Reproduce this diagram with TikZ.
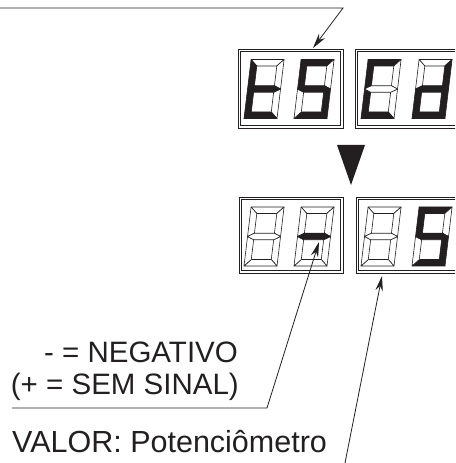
\documentclass[tikz,border=0pt]{standalone}
\usepackage{fontspec}
\setmainfont{Liberation Sans}
\usetikzlibrary{arrows.meta}
\definecolor{ink}{HTML}{231F20}
\tikzset{
  seg/.style={draw=ink, line width=0.6pt, line join=round},
  frame/.style={draw=ink, line width=0.7pt},
  lead/.style={draw=ink, line width=0.8pt, -{Stealth[length=15pt,width=7.5pt]}},
  lbl/.style={text=ink, inner sep=0pt, font=\fontsize{29.5}{32}\selectfont},
}
% args: x, y (bottom-left), then fill colours of segments a b c d e f g
\newcommand\sevenseg[9]{%
  \begin{scope}[shift={(#1,#2)}, xslant=0.12]
    \filldraw[seg,fill=#3] (0,59) -- (33,59) -- (26.5,52.5) -- (6.5,52.5) -- cycle;
    \filldraw[seg,fill=#4] (33,59) -- (33,29.5) -- (26.5,32.75) -- (26.5,52.5) -- cycle;
    \filldraw[seg,fill=#5] (33,29.5) -- (33,0) -- (26.5,6.5) -- (26.5,26.25) -- cycle;
    \filldraw[seg,fill=#6] (0,0) -- (33,0) -- (26.5,6.5) -- (6.5,6.5) -- cycle;
    \filldraw[seg,fill=#7] (0,0) -- (0,29.5) -- (6.5,26.25) -- (6.5,6.5) -- cycle;
    \filldraw[seg,fill=#8] (0,29.5) -- (0,59) -- (6.5,52.5) -- (6.5,32.75) -- cycle;
    \filldraw[seg,fill=#9] (0,29.5) -- (6.5,32.75) -- (26.5,32.75) -- (33,29.5) -- (26.5,26.25) -- (6.5,26.25) -- cycle;
  \end{scope}}
\begin{document}
\begin{tikzpicture}[x=1pt,y=1pt]
\useasboundingbox (0,0) rectangle (455,463);
\clip (0,0) rectangle (455,463);

% display frames (double lines)
\draw[frame] (238,335) rectangle (343,414);
\draw[frame] (240.5,337.5) rectangle (340.5,411.5);
\draw[frame] (355,335) rectangle (470,414);
\draw[frame] (357.5,337.5) rectangle (470,411.5);
\draw[frame] (239,190) rectangle (343,266);
\draw[frame] (241.5,192.5) rectangle (340.5,263.5);
\draw[frame] (356,190) rectangle (470,266);
\draw[frame] (358.5,192.5) rectangle (470,263.5);

% top row: t S C d
\sevenseg{244}{344.5}{white}{white}{white}{ink}{ink}{ink}{ink}
\sevenseg{294}{344.5}{ink}{white}{ink}{ink}{white}{ink}{ink}
\sevenseg{361}{344.5}{ink}{white}{white}{ink}{ink}{ink}{white}
\sevenseg{412}{344.5}{white}{ink}{ink}{ink}{ink}{white}{ink}

% bottom row: blank - blank 5
\sevenseg{244}{197}{white}{white}{white}{white}{white}{white}{white}
\sevenseg{294}{197}{white}{white}{white}{white}{white}{white}{ink}
\sevenseg{361}{197}{white}{white}{white}{white}{white}{white}{white}
\sevenseg{412}{197}{ink}{white}{ink}{ink}{white}{ink}{ink}

% down triangle
\fill[ink] (337,318) -- (365,318) -- (351,278) -- cycle;

% leaders
\coordinate (t0) at (0,455);
\coordinate (t1) at (343,455);
\coordinate (t2) at (313,415);
\draw[lead] (t0) -- (t1) -- (t2);

\node[lbl, anchor=base east] (neg) at (238,100) {- = NEGATIVO};
\node[lbl, anchor=base east] (sem) at (239,68) {(+ = SEM SINAL)};
\node[lbl, anchor=base west, font=\fontsize{30.5}{32}\selectfont] (val) at (12,10) {VALOR: Potenciômetro};

\coordinate (m0) at (12,55);
\coordinate (m1) at (267,55);
\coordinate (m2) at (319,221);
\draw[lead] (m0) -- (m1) -- (m2);

\coordinate (v0) at (345,0);
\coordinate (v1) at (382,187);
\draw[lead] (v0) -- (v1);
\end{tikzpicture}
\end{document}
